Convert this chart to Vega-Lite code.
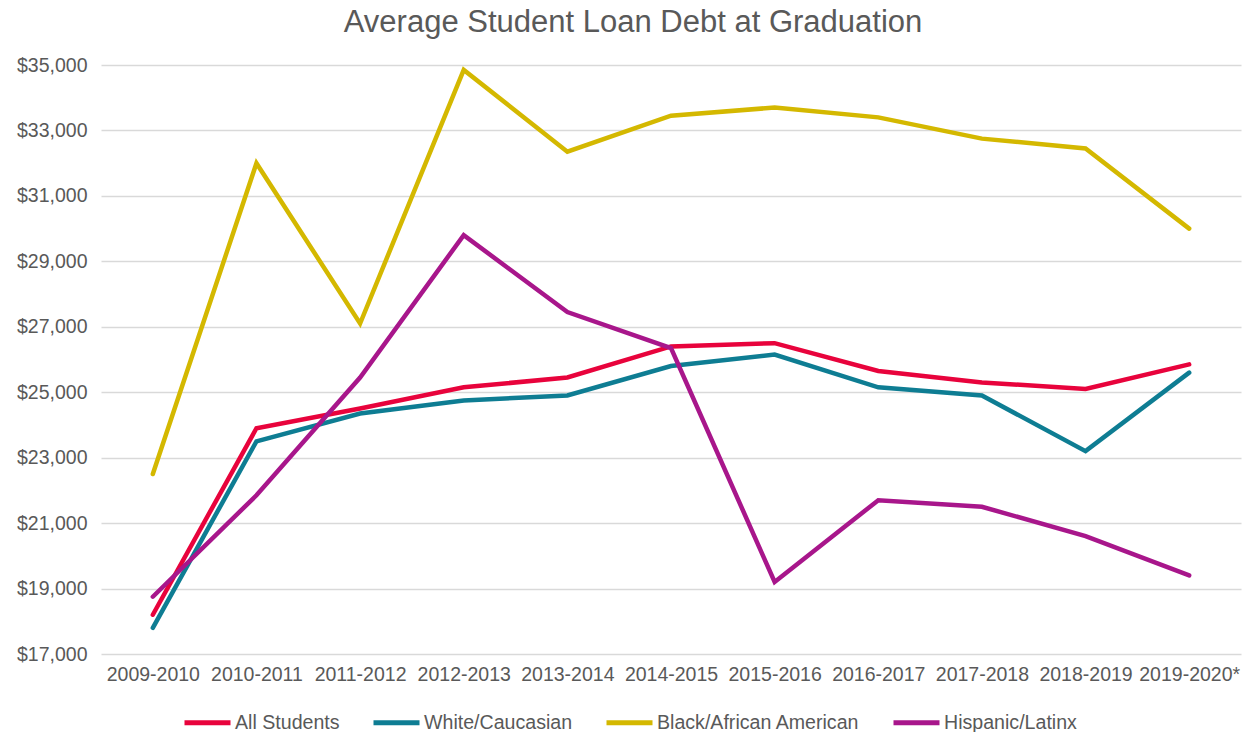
{
  "$schema": "https://vega.github.io/schema/vega-lite/v6.json",
  "width": 1140,
  "height": 589,
  "autosize": {"type": "none"},
  "padding": {"left": 101, "top": 65, "right": 6, "bottom": 78},
  "background": "white",
  "title": {
    "text": "Average Student Loan Debt at Graduation",
    "anchor": "middle",
    "frame": "group",
    "dx": -38,
    "offset": 16,
    "font": "Liberation Sans",
    "fontSize": 31,
    "fontWeight": "normal",
    "color": "#595959"
  },
  "config": {
    "view": {"stroke": null},
    "font": "Liberation Sans"
  },
  "data": {
    "values": [
      {"year": "2009-2010", "group": "All Students", "debt": 18200},
      {"year": "2010-2011", "group": "All Students", "debt": 23900},
      {"year": "2011-2012", "group": "All Students", "debt": 24500},
      {"year": "2012-2013", "group": "All Students", "debt": 25150},
      {"year": "2013-2014", "group": "All Students", "debt": 25450},
      {"year": "2014-2015", "group": "All Students", "debt": 26400},
      {"year": "2015-2016", "group": "All Students", "debt": 26500},
      {"year": "2016-2017", "group": "All Students", "debt": 25650},
      {"year": "2017-2018", "group": "All Students", "debt": 25300},
      {"year": "2018-2019", "group": "All Students", "debt": 25100},
      {"year": "2019-2020*", "group": "All Students", "debt": 25850},
      {"year": "2009-2010", "group": "White/Caucasian", "debt": 17800},
      {"year": "2010-2011", "group": "White/Caucasian", "debt": 23500},
      {"year": "2011-2012", "group": "White/Caucasian", "debt": 24350},
      {"year": "2012-2013", "group": "White/Caucasian", "debt": 24750},
      {"year": "2013-2014", "group": "White/Caucasian", "debt": 24900},
      {"year": "2014-2015", "group": "White/Caucasian", "debt": 25800},
      {"year": "2015-2016", "group": "White/Caucasian", "debt": 26150},
      {"year": "2016-2017", "group": "White/Caucasian", "debt": 25150},
      {"year": "2017-2018", "group": "White/Caucasian", "debt": 24900},
      {"year": "2018-2019", "group": "White/Caucasian", "debt": 23200},
      {"year": "2019-2020*", "group": "White/Caucasian", "debt": 25600},
      {"year": "2009-2010", "group": "Black/African American", "debt": 22500},
      {"year": "2010-2011", "group": "Black/African American", "debt": 32000},
      {"year": "2011-2012", "group": "Black/African American", "debt": 27100},
      {"year": "2012-2013", "group": "Black/African American", "debt": 34850},
      {"year": "2013-2014", "group": "Black/African American", "debt": 32350},
      {"year": "2014-2015", "group": "Black/African American", "debt": 33450},
      {"year": "2015-2016", "group": "Black/African American", "debt": 33700},
      {"year": "2016-2017", "group": "Black/African American", "debt": 33400},
      {"year": "2017-2018", "group": "Black/African American", "debt": 32750},
      {"year": "2018-2019", "group": "Black/African American", "debt": 32450},
      {"year": "2019-2020*", "group": "Black/African American", "debt": 30000},
      {"year": "2009-2010", "group": "Hispanic/Latinx", "debt": 18750},
      {"year": "2010-2011", "group": "Hispanic/Latinx", "debt": 21850},
      {"year": "2011-2012", "group": "Hispanic/Latinx", "debt": 25450},
      {"year": "2012-2013", "group": "Hispanic/Latinx", "debt": 29800},
      {"year": "2013-2014", "group": "Hispanic/Latinx", "debt": 27450},
      {"year": "2014-2015", "group": "Hispanic/Latinx", "debt": 26350},
      {"year": "2015-2016", "group": "Hispanic/Latinx", "debt": 19200},
      {"year": "2016-2017", "group": "Hispanic/Latinx", "debt": 21700},
      {"year": "2017-2018", "group": "Hispanic/Latinx", "debt": 21500},
      {"year": "2018-2019", "group": "Hispanic/Latinx", "debt": 20600},
      {"year": "2019-2020*", "group": "Hispanic/Latinx", "debt": 19400}
    ]
  },
  "mark": {"type": "line", "strokeWidth": 4.5, "strokeCap": "round", "strokeJoin": "miter"},
  "encoding": {
    "x": {
      "field": "year",
      "type": "ordinal",
      "sort": null,
      "scale": {"padding": 0.5},
      "axis": {
        "title": null,
        "labelAngle": 0,
        "labelFontSize": 19.5,
        "labelColor": "#595959",
        "labelPadding": 11,
        "labelLimit": 200,
        "ticks": false,
        "domain": false,
        "grid": false
      }
    },
    "y": {
      "field": "debt",
      "type": "quantitative",
      "scale": {"domain": [17000, 35000], "nice": false, "zero": false},
      "axis": {
        "title": null,
        "values": [17000, 19000, 21000, 23000, 25000, 27000, 29000, 31000, 33000, 35000],
        "format": "$,.0f",
        "labelFontSize": 19.5,
        "labelColor": "#595959",
        "labelPadding": 14,
        "ticks": false,
        "domain": false,
        "grid": true,
        "gridColor": "#D9D9D9",
        "gridWidth": 1.5
      }
    },
    "color": {
      "field": "group",
      "type": "nominal",
      "sort": ["All Students", "White/Caucasian", "Black/African American", "Hispanic/Latinx"],
      "scale": {
        "domain": ["All Students", "White/Caucasian", "Black/African American", "Hispanic/Latinx"],
        "range": ["#E8033C", "#0E7D93", "#D4B800", "#A8168B"]
      },
      "legend": {
        "title": null,
        "orient": "none",
        "legendX": 81,
        "legendY": 632,
        "direction": "horizontal",
        "symbolType": "stroke",
        "symbolSize": 2116,
        "symbolStrokeWidth": 5,
        "labelFontSize": 19.6,
        "labelColor": "#595959",
        "labelOffset": 2,
        "labelLimit": 400,
        "columnPadding": 23
      }
    }
  }
}
